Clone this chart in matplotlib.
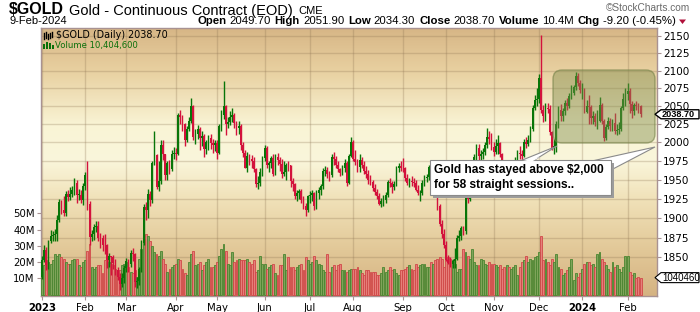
import numpy as np
import pandas as pd
import matplotlib
matplotlib.use("Agg")
import matplotlib.pyplot as plt
from matplotlib.patches import Polygon, Rectangle, FancyBboxPatch
from matplotlib.lines import Line2D
from matplotlib.transforms import IdentityTransform
from matplotlib.ticker import FixedLocator, NullLocator

# ------------------------------------------------------------------ data
holidays = ["2023-01-02", "2023-01-16", "2023-02-20", "2023-04-07", "2023-05-29",
            "2023-06-19", "2023-07-04", "2023-09-04", "2023-11-23", "2023-12-25",
            "2024-01-01", "2024-01-15"]

opens = [
    1826,1846,1859,1840,1870,1877,1878,1879,1898,1921,1910,1907,1931,1927,1931,1937,1946,1930,1930,1924,
    1942,1956,1918,1876,1880,1889,1890,1875,1874,1866,1865,1847,1851,1850,1843,1834,1826,1817,1824,
    1837,1845,1842,1856,1854,1819,1820,1835,1868,1914,1911,1931,1923,1973,1983,1941,1949,1996,1984,1956,1973,1964,1985,
    1986,1985,2037,2035,2025,2003,2019,2029,2050,2008,2011,2019,2006,2009,1991,2000,2006,1999,1997,
    1999,1986,2023,2037,2050,2025,2028,2035,2037,2026,2020,2023,1996,1986,1966,1982,1978,1975,1964,1944,1946,1960,
    1979,1993,1969,1972,1979,1958,1980,1977,1971,1958,1960,1970,1969,1948,1945,1929,1933,1935,1923,1915,1910,
    1929,1930,1932,1916,1933,1937,1942,1962,1963,1958,1956,1980,1978,1970,1964,1959,1966,1972,1946,1982,
    2000,1978,1974,1967,1976,1970,1961,1957,1950,1947,1939,1934,1929,1918,1922,1924,1930,1947,1946,1940,1945,1965,1968,
    1966,1965,1953,1946,1948,1947,1946,1937,1932,1933,1946,1953,1954,1967,1945,1945,1936,1915,1892,1880,
    1866,1847,1843,1842,1845,1848,1875,1877,1887,1883,1932,1925,1935,1962,1981,1993,1982,1984,1987,1996,2007,2005,
    1994,1987,1995,1999,1984,1969,1954,1962,1940,1946,1970,1973,1986,1984,1982,2001,1998,2004,2018,2048,2058,
    2060,2090,2045,2036,2047,2046,2014,1993,1995,2025,2045,2036,2043,2054,2050,2064,2069,2077,2093,2083,
    2072,2073,2042,2050,2049,2033,2036,2028,2030,2051,2030,2006,2021,2029,2022,2027,2016,2017,2018,2048,2060,
    2067,2071,2053,2043,2051,2050,2049.7,
]
highs = [
    1851,1866,1863,1872,1885,1883,1886,1904,1925,1924,1929,1935,1937,1940,1942,1952,1950,1938,1937,1946,
    1960,1975,1922,1885,1892,1896,1896,1881,1878,1880,1867,1856,1852,1853,1848,1838,1830,1830,1840,
    1849,1848,1859,1862,1856,1826,1838,1872,1918,1921,1938,1935,1975,2015,1985,1975,2004,2003,1985,1975,1976,1990,1994,
    1993,2040,2045,2037,2027,2022,2035,2062,2052,2018,2024,2021,2015,2012,2003,2010,2012,2005,2003,
    2003,2025,2045,2085,2052,2035,2043,2048,2041,2030,2030,2025,2000,1990,1987,1985,1983,1980,1966,1955,1965,1982,
    1996,1995,1975,1982,1985,1985,1986,1980,1978,1975,1972,1975,1970,1952,1946,1937,1938,1938,1928,1920,1930,
    1935,1936,1934,1936,1941,1945,1966,1968,1967,1962,1984,1987,1982,1975,1966,1970,1978,1975,1985,2007,
    2004,1990,1978,1985,1980,1975,1968,1963,1956,1950,1945,1938,1932,1926,1930,1934,1950,1952,1949,1948,1968,1972,1975,
    1979,1967,1957,1952,1955,1952,1950,1943,1936,1950,1956,1958,1970,1970,1950,1948,1938,1918,1897,1886,
    1870,1853,1850,1848,1862,1878,1885,1890,1890,1935,1940,1940,1965,1985,1998,1998,1990,1992,2000,2020,2016,2013,
    2000,2005,2010,2000,1986,1972,1968,1963,1950,1975,1980,1990,1995,1990,2005,2008,2010,2022,2052,2066,2075,
    2095,2152,2052,2055,2055,2052,2016,2005,2030,2050,2053,2048,2058,2062,2068,2080,2080,2098,2096,2086,
    2082,2076,2058,2065,2052,2043,2040,2045,2063,2055,2032,2025,2035,2033,2032,2040,2025,2028,2050,2068,2075,
    2082,2075,2057,2055,2057,2055,2051.9,
]
lows = [
    1823,1844,1834,1835,1868,1870,1871,1871,1895,1905,1903,1902,1922,1923,1927,1930,1920,1923,1920,1917,
    1937,1910,1865,1870,1872,1882,1870,1862,1858,1854,1836,1838,1828,1835,1828,1822,1809,1813,1818,
    1832,1832,1838,1845,1813,1812,1815,1832,1865,1898,1900,1915,1920,1970,1938,1935,1945,1976,1950,1950,1958,1962,1978,
    1976,1983,2025,2015,1995,2000,2015,2027,2004,1998,2005,1990,1995,1981,1985,1990,1991,1986,1988,
    1978,1984,2015,2032,2010,2020,2024,2028,2020,2010,2012,1990,1980,1965,1960,1970,1965,1960,1940,1938,1942,1955,
    1975,1965,1960,1965,1955,1956,1970,1962,1952,1955,1950,1962,1940,1935,1925,1922,1925,1920,1912,1902,1908,
    1920,1922,1910,1912,1925,1930,1938,1955,1952,1948,1954,1970,1966,1960,1955,1956,1960,1942,1944,1980,
    1975,1970,1960,1960,1965,1958,1953,1945,1943,1935,1930,1925,1917,1914,1915,1919,1927,1940,1932,1936,1942,1960,1962,
    1960,1948,1943,1940,1942,1940,1935,1930,1922,1930,1942,1947,1950,1940,1938,1930,1910,1890,1875,1862,
    1845,1841,1838,1836,1836,1847,1870,1872,1878,1880,1920,1922,1932,1958,1975,1975,1975,1978,1983,1992,1998,1990,
    1982,1985,1985,1980,1965,1950,1948,1935,1933,1944,1962,1970,1978,1975,1980,1992,1995,2001,2015,2045,2050,
    2054,2040,2028,2030,2040,2010,1990,1985,1987,2020,2030,2030,2038,2045,2048,2060,2065,2073,2078,2068,
    2060,2040,2040,2025,2025,2025,2022,2018,2028,2025,2002,2004,2018,2015,2015,2012,2010,2012,2015,2044,2050,
    2058,2040,2033,2038,2044,2040,2034.3,
]
closes = [
    1846,1859,1840,1870,1877,1878,1879,1898,1921,1910,1907,1931,1927,1931,1937,1946,1930,1930,1924,1942,
    1956,1918,1876,1880,1889,1890,1875,1874,1866,1865,1847,1851,1850,1843,1834,1826,1817,1824,1837,
    1845,1842,1856,1854,1819,1820,1835,1868,1914,1911,1931,1923,1973,1983,1941,1949,1996,1984,1956,1973,1964,1985,1986,
    1985,2037,2035,2025,2003,2019,2029,2050,2008,2011,2019,2006,2009,1991,2000,2006,1999,1997,1999,
    1986,2023,2037,2050,2025,2028,2035,2037,2026,2020,2023,1996,1986,1966,1982,1978,1975,1964,1944,1946,1960,1979,
    1993,1969,1972,1979,1958,1980,1977,1971,1958,1960,1970,1969,1948,1945,1929,1933,1935,1923,1915,1910,1929,
    1930,1932,1916,1933,1937,1942,1962,1963,1958,1956,1980,1978,1970,1964,1959,1966,1972,1946,1982,2000,
    1978,1974,1967,1976,1970,1961,1957,1950,1947,1939,1934,1929,1918,1922,1924,1930,1947,1946,1940,1945,1965,1968,1966,
    1965,1953,1946,1948,1947,1946,1937,1932,1933,1946,1953,1954,1967,1945,1945,1936,1915,1892,1880,1866,
    1847,1843,1842,1845,1848,1875,1877,1887,1883,1932,1925,1935,1962,1981,1993,1982,1984,1987,1996,2007,2005,1994,
    1987,1995,1999,1984,1969,1954,1962,1940,1946,1970,1973,1986,1984,1982,2001,1998,2004,2018,2048,2058,2060,
    2090,2045,2036,2047,2046,2014,1993,1995,2025,2045,2036,2043,2054,2050,2064,2069,2077,2093,2083,2072,
    2073,2042,2050,2049,2033,2036,2028,2030,2051,2030,2006,2021,2029,2022,2027,2016,2017,2018,2048,2060,2067,
    2071,2053,2043,2051,2050,2047.9,2038.7,
]
volumes_m = [
    14,18,21,20,19,21,25,24,25,23,22,20,19,19,21,22,22,18,17,20,
    21,27,31,17,16,17,18,18,13,21,22,20,19,18,16,15,15,18,19,
    20,17,14,13,15,11,22,28,34,37,36,33,30,26,25,24,27,22,19,14,16,17,18,
    19,22,21,16,13,12,20,25,27,18,19,20,15,18,20,22,17,17,18,
    20,24,28,31,27,19,18,26,20,21,22,21,21,21,22,20,19,21,14,15,24,19,
    19,16,17,18,19,13,12,18,18,25,15,23,17,17,15,17,18,19,15,23,21,
    19,20,24,21,19,18,15,14,25,14,17,18,15,18,19,15,15,14,15,16,
    16,16,17,15,13,12,15,15,14,14,14,12,12,13,17,14,15,17,15,16,13,12,15,
    15,16,17,18,16,15,19,17,18,19,19,17,17,20,19,21,22,23,22,17,
    22,23,22,21,19,14,16,16,28,26,24,22,28,20,18,18,22,21,19,18,20,19,
    19,18,17,18,16,17,18,17,16,17,18,12,17,20,21,24,20,22,21,23,24,
    26,36,21,22,20,18,22,20,25,17,16,12,13,15,17,22,9,13,11,13,
    16,19,20,20,18,19,17,25,26,22,20,18,16,14,20,17,18,16,14,17,24,
    24,14,12,13,10,11,10.4046,
]
month_labels = ["2023", "Feb", "Mar", "Apr", "May", "Jun", "Jul", "Aug", "Sep",
                "Oct", "Nov", "Dec", "2024", "Feb"]
price_ticks = [1850, 1875, 1900, 1925, 1950, 1975, 2000, 2025, 2050, 2075, 2100, 2125, 2150]
volume_ticks_m = [10, 20, 30, 40, 50]
volume_tick_labels = ["10M", "20M", "30M", "40M", "50M"]
stats = [("Open", True), ("2049.70", False), ("High", True), ("2051.90", False),
         ("Low", True), ("2034.30", False), ("Close", True), ("2038.70", False),
         ("Volume", True), ("10.4M", False), ("Chg", True), ("-9.20 (-0.45%)", False)]
callout_text = "Gold has stayed above $2,000\nfor 58 straight sessions.."

# ------------------------------------------------------------------ setup
plt.rcParams["font.family"] = ["DejaVu Sans"]
W, H = 700, 312
L, T, R, B = 41, 28, 657, 296
IDT = IdentityTransform()


def P(x, y):
    return (x, H - y)


dates = pd.bdate_range("2023-01-03", "2024-02-09")
dates = dates[~dates.isin(pd.to_datetime(holidays))]
n = len(closes)
dates = dates[:n]
xi = np.arange(n)
o = np.array(opens, float)
h = np.array(highs, float)
l = np.array(lows, float)
c = np.array(closes, float)
v = np.array(volumes_m, float)
up = c >= o

per = pd.Series(dates.to_period("M"))
month_pos = [int(i) for i in np.where(per.ne(per.shift()).values)[0]]

fig = plt.figure(figsize=(W / 100, H / 100), dpi=100)
fig.patch.set_facecolor("white")
ax = fig.add_axes([L / W, 1 - B / H, (R - L) / W, (B - T) / H])
ax2 = ax.twinx()

# background gradient
ys = np.arange(T, B + 1)
stop_y = [28, 70, 125, 160, 200, 250, 296]
stop_rgb = [(215, 182, 134), (232, 208, 160), (249, 244, 213), (250, 246, 219),
            (240, 225, 184), (226, 200, 152), (213, 179, 130)]
grad = np.zeros((len(ys), 1, 3))
for k in range(3):
    grad[:, 0, k] = np.interp(ys, stop_y, [s[k] for s in stop_rgb]) / 255
ax.imshow(grad, extent=[0, 1, 0, 1], transform=ax.transAxes, aspect="auto",
          zorder=0, interpolation="bilinear")

XL = (-0.46, 284.6)
PLO, PHI = 1802.0, 2161.7
ax.set_xlim(*XL)
ax.set_ylim(-0.9, 164.0)

# grid
gcol = (0.55, 0.45, 0.32, 0.28)
for p in month_pos:
    ax.axvline(p, color=gcol, lw=1.0, zorder=1)
for pt in price_ticks:
    f = (np.log(pt) - np.log(PLO)) / (np.log(PHI) - np.log(PLO))
    ax.plot([0, 1], [f, f], transform=ax.transAxes, color=gcol, lw=1.0, zorder=1)

# volume bars
vcol = np.where(up, "#7fa45a", "#e67f7a")
vedge = np.where(up, "#4a8530", "#d04848")
ax.bar(xi, v, width=0.88, color=vcol, edgecolor=vedge, linewidth=0.6, zorder=3)

# candles
ax2.set_yscale("log")
ccol = np.where(up, "#087508", "#d3123c")
ax2.vlines(xi, l, h, colors=ccol, linewidth=1.0, zorder=4)
ax2.bar(xi, np.maximum(np.abs(c - o), 0.8), bottom=np.minimum(o, c), width=0.78,
        color=ccol, linewidth=0, zorder=5)
ax2.set_ylim(PLO, PHI)
ax2.set_xlim(*XL)

# axes styling
spc = "#a89292"
for s in ax.spines.values():
    s.set_color(spc)
    s.set_linewidth(1.0)
for s in ax2.spines.values():
    s.set_visible(False)

ax2.yaxis.set_major_locator(FixedLocator(price_ticks))
ax2.yaxis.set_minor_locator(NullLocator())
ax2.set_yticklabels([str(t) for t in price_ticks])
ax2.tick_params(axis="y", which="major", direction="out", length=3, width=0.8,
                color=spc, pad=1.5, labelsize=7.5)

ax.set_yticks(volume_ticks_m)
ax.set_yticklabels(volume_tick_labels)
ax.tick_params(axis="y", direction="out", length=3, width=0.8, color=spc,
               pad=1.5, labelsize=7.3)

ax.set_xticks(month_pos)
ax.set_xticklabels(month_labels)
ax.tick_params(axis="x", direction="out", length=3, width=0.8, color=spc,
               pad=2, labelsize=7.3)
for lab in ax.get_xticklabels():
    if lab.get_text().isdigit():
        lab.set_fontweight("bold")

# ------------------------------------------------------------------ header
fig.canvas.draw()
rend = fig.canvas.get_renderer()

xcur = 9.0
for txt, size, bold, yc, gap in [("$GOLD", 11.5, True, 10.0, 5.0),
                                 ("Gold - Continuous Contract (EOD)", 10.5, False, 10.5, 6.0),
                                 ("CME", 8.0, False, 11.0, 0.0)]:
    t = fig.text(xcur / W, 1 - yc / H, txt, fontsize=size,
                 fontweight="bold" if bold else "normal", family="Liberation Sans",
                 va="center", ha="left")
    xcur += t.get_window_extent(renderer=rend).width + gap

fig.text(9 / W, 1 - 21.5 / H, "9-Feb-2024", fontsize=8.0, family="Liberation Sans",
         va="center", ha="left")
fig.text(690 / W, 1 - 8 / H, "\u00a9StockCharts.com", fontsize=7.3, color="#6a6a6a",
         family="Liberation Sans", va="center", ha="right")

xcur = 676.0
for txt, bold in reversed(stats):
    t = fig.text(xcur / W, 1 - 21.5 / H, txt, fontsize=8.2,
                 fontweight="bold" if bold else "normal", family="Liberation Sans",
                 va="center", ha="right")
    bb = t.get_window_extent(renderer=rend)
    xcur -= bb.width + (3.0 if not bold else 4.0)
fig.add_artist(Polygon([P(679, 19.5), P(686, 19.5), P(682.5, 24)], closed=True,
                       transform=IDT, facecolor="#b0103a", edgecolor="none", zorder=10))

# legend inside plot
for xx, y0, y1 in [(44, 33, 39), (46, 32, 38), (48, 34, 39), (50, 33, 38), (52, 32, 37)]:
    fig.add_artist(Line2D([xx, xx], [H - y0, H - y1], transform=IDT, color="black",
                          lw=1.0, zorder=10))
fig.text(56 / W, 1 - 35.5 / H, "$GOLD (Daily) 2038.70", fontsize=6.9,
         va="center", ha="left", color="black", zorder=10)
for xx, y0 in [(43, 44), (46, 42), (49, 43), (52, 45)]:
    fig.add_artist(Rectangle(P(xx, 49), 2, 49 - y0, transform=IDT,
                             facecolor="#0a700a", edgecolor="none", zorder=10))
fig.text(55 / W, 1 - 45.5 / H, "Volume 10,404,600", fontsize=6.1,
         va="center", ha="left", color="#0a700a", zorder=10)

# ------------------------------------------------------------------ annotations
# consolidation box
fig.add_artist(FancyBboxPatch(P(553, 143), 102, 73,
                              boxstyle="round,pad=0,rounding_size=9", transform=IDT,
                              facecolor=(0.50, 0.55, 0.30, 0.44),
                              edgecolor=(0.45, 0.50, 0.28, 0.6), lw=1.0, zorder=8))

# callout tails
fig.add_artist(Polygon([P(520, 161), P(533, 161), P(557, 146)], closed=True,
                       transform=IDT, facecolor="white", edgecolor="#8a8a8a", lw=0.8,
                       zorder=9))
fig.add_artist(Polygon([P(592, 161), P(611, 170), P(655, 147)], closed=True,
                       transform=IDT, facecolor="white", edgecolor="#8a8a8a", lw=0.8,
                       zorder=9))
# shadow + box
fig.add_artist(Rectangle(P(433, 198), 181, 35, transform=IDT, facecolor="#9c9c9c",
                         edgecolor="none", zorder=9))
fig.add_artist(Rectangle(P(430, 195), 181, 35, transform=IDT, facecolor="white",
                         edgecolor="#8a8a8a", lw=0.8, zorder=9.5))
fig.add_artist(Polygon([P(521, 161.5), P(532, 161.5), P(540, 157)], closed=True,
                       transform=IDT, facecolor="white", edgecolor="none", zorder=9.6))
fig.add_artist(Polygon([P(593, 161.5), P(610.5, 169), P(610.5, 161.5)], closed=True,
                       transform=IDT, facecolor="white", edgecolor="none", zorder=9.6))
fig.text(434 / W, 1 - 177.5 / H, callout_text, fontsize=8.6, fontweight="bold",
         family="Liberation Sans", va="center", ha="left", linespacing=1.25, zorder=10)

# ------------------------------------------------------------------ last-value markers
yd = ax2.transData.transform((0, closes[-1]))[1]
fig.add_artist(Polygon([(655, yd), (661, yd + 4.5), (699, yd + 4.5), (699, yd - 4.5),
                        (661, yd - 4.5)], closed=True, transform=IDT, facecolor="white",
                       edgecolor="black", lw=1.0, zorder=10))
fig.text(662 / W, (yd - 0.5) / H, f"{closes[-1]:.2f}", fontsize=6.6, fontweight="bold",
         family="Liberation Sans", va="center", ha="left", zorder=11)
yv = ax.transData.transform((0, volumes_m[-1]))[1]
fig.add_artist(Polygon([(655, yv), (661, yv + 5), (699, yv + 5), (699, yv - 5),
                        (661, yv - 5)], closed=True, transform=IDT, facecolor="white",
                       edgecolor="black", lw=0.8, zorder=10))
fig.text(662 / W, yv / H, "1040460", fontsize=7.0, family="Liberation Sans",
         va="center", ha="left", zorder=11)

fig.savefig("out.png", dpi=100)
